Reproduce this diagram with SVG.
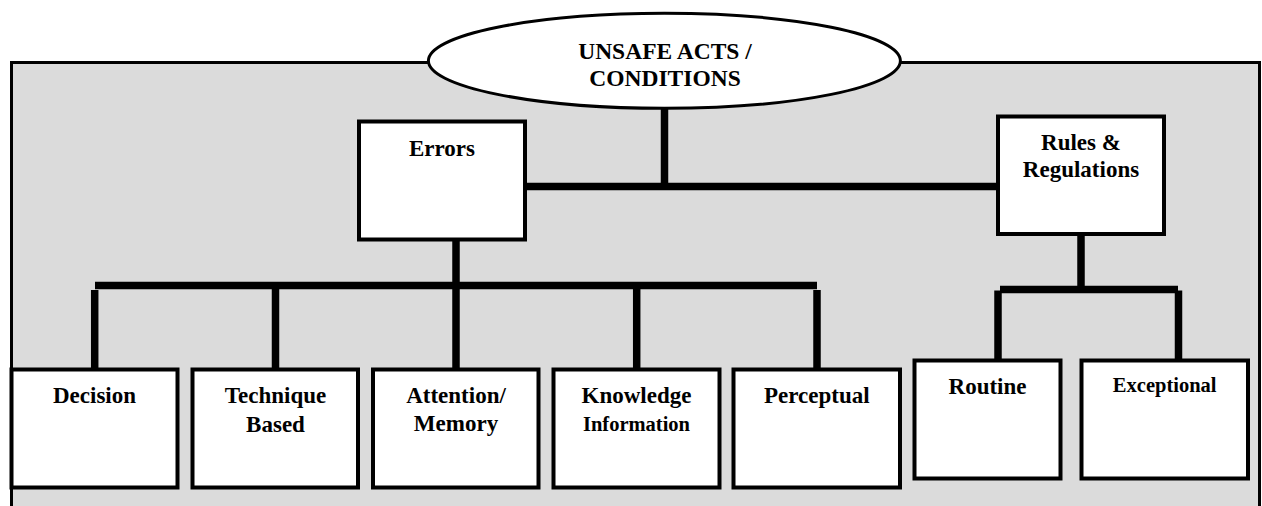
<svg xmlns="http://www.w3.org/2000/svg" width="1262" height="506" viewBox="0 0 1262 506">
<style>
.box{fill:#ffffff;stroke:#000000;stroke-width:4}
.conn{stroke:#000000;stroke-width:7.5;stroke-linecap:butt;fill:none}
.t{font-family:"Liberation Serif","Times New Roman",serif;font-weight:bold;font-size:23px;fill:#000000;text-anchor:middle}
.s{font-size:20.5px}
</style>
<rect width="1262" height="506" fill="#ffffff"/>
<g id="panel">
<rect x="11.5" y="62.5" width="1248" height="470" fill="#dbdbdb" stroke="#000000" stroke-width="3"/>
</g>
<g id="connectors">
<line class="conn" x1="664.5" y1="105" x2="664.5" y2="190"/>
<line class="conn" x1="525" y1="186.5" x2="1000" y2="186.5"/>
<line class="conn" x1="456" y1="240" x2="456" y2="369"/>
<line class="conn" x1="95" y1="285.5" x2="817" y2="285.5"/>
<line class="conn" x1="94.7" y1="290" x2="94.7" y2="369"/>
<line class="conn" x1="275.5" y1="289" x2="275.5" y2="369"/>
<line class="conn" x1="636.7" y1="289" x2="636.7" y2="369"/>
<line class="conn" x1="817" y1="290" x2="817" y2="369"/>
<line class="conn" x1="1081" y1="234" x2="1081" y2="289"/>
<line class="conn" x1="1000" y1="289.5" x2="1178" y2="289.5"/>
<line class="conn" x1="998" y1="290.5" x2="998" y2="360"/>
<line class="conn" x1="1178.5" y1="290.5" x2="1178.5" y2="360"/>
</g>
<g id="node-unsafe">
<ellipse cx="664.4" cy="60.8" rx="236" ry="47.5" fill="#ffffff" stroke="#000000" stroke-width="3"/>
<text class="t" x="665" y="58.5" style="font-size:23.5px">UNSAFE ACTS /</text>
<text class="t" x="665" y="85.5" style="font-size:23.5px">CONDITIONS</text>
</g>
<g id="node-errors">
<rect class="box" x="359" y="121.5" width="166" height="118"/>
<text class="t" x="442" y="155.7">Errors</text>
</g>
<g id="node-rules">
<rect class="box" x="998" y="116.5" width="166" height="117.5"/>
<text class="t" x="1081" y="150">Rules &amp;</text>
<text class="t" x="1081" y="176.7">Regulations</text>
</g>
<g id="node-decision">
<rect class="box" x="11.5" y="369.5" width="166" height="118"/>
<text class="t" x="94.5" y="402.7">Decision</text>
</g>
<g id="node-technique">
<rect class="box" x="192.5" y="369.5" width="165.5" height="118"/>
<text class="t" x="275.5" y="402.7">Technique</text>
<text class="t" x="275.5" y="431.5">Based</text>
</g>
<g id="node-attention">
<rect class="box" x="373" y="369.5" width="165.5" height="118"/>
<text class="t" x="456" y="402.7">Attention/</text>
<text class="t" x="456" y="430.5">Memory</text>
</g>
<g id="node-knowledge">
<rect class="box" x="553.5" y="369.5" width="166" height="118"/>
<text class="t" x="636.5" y="402.7">Knowledge</text>
<text class="t s" x="636.5" y="430.7">Information</text>
</g>
<g id="node-perceptual">
<rect class="box" x="733.5" y="369.5" width="166.5" height="118"/>
<text class="t" x="816.8" y="402.7">Perceptual</text>
</g>
<g id="node-routine">
<rect class="box" x="914.5" y="360.5" width="146" height="118"/>
<text class="t" x="987.5" y="394">Routine</text>
</g>
<g id="node-exceptional">
<rect class="box" x="1081.5" y="360.5" width="166.5" height="118"/>
<text class="t s" x="1164.7" y="391.7">Exceptional</text>
</g>
</svg>
